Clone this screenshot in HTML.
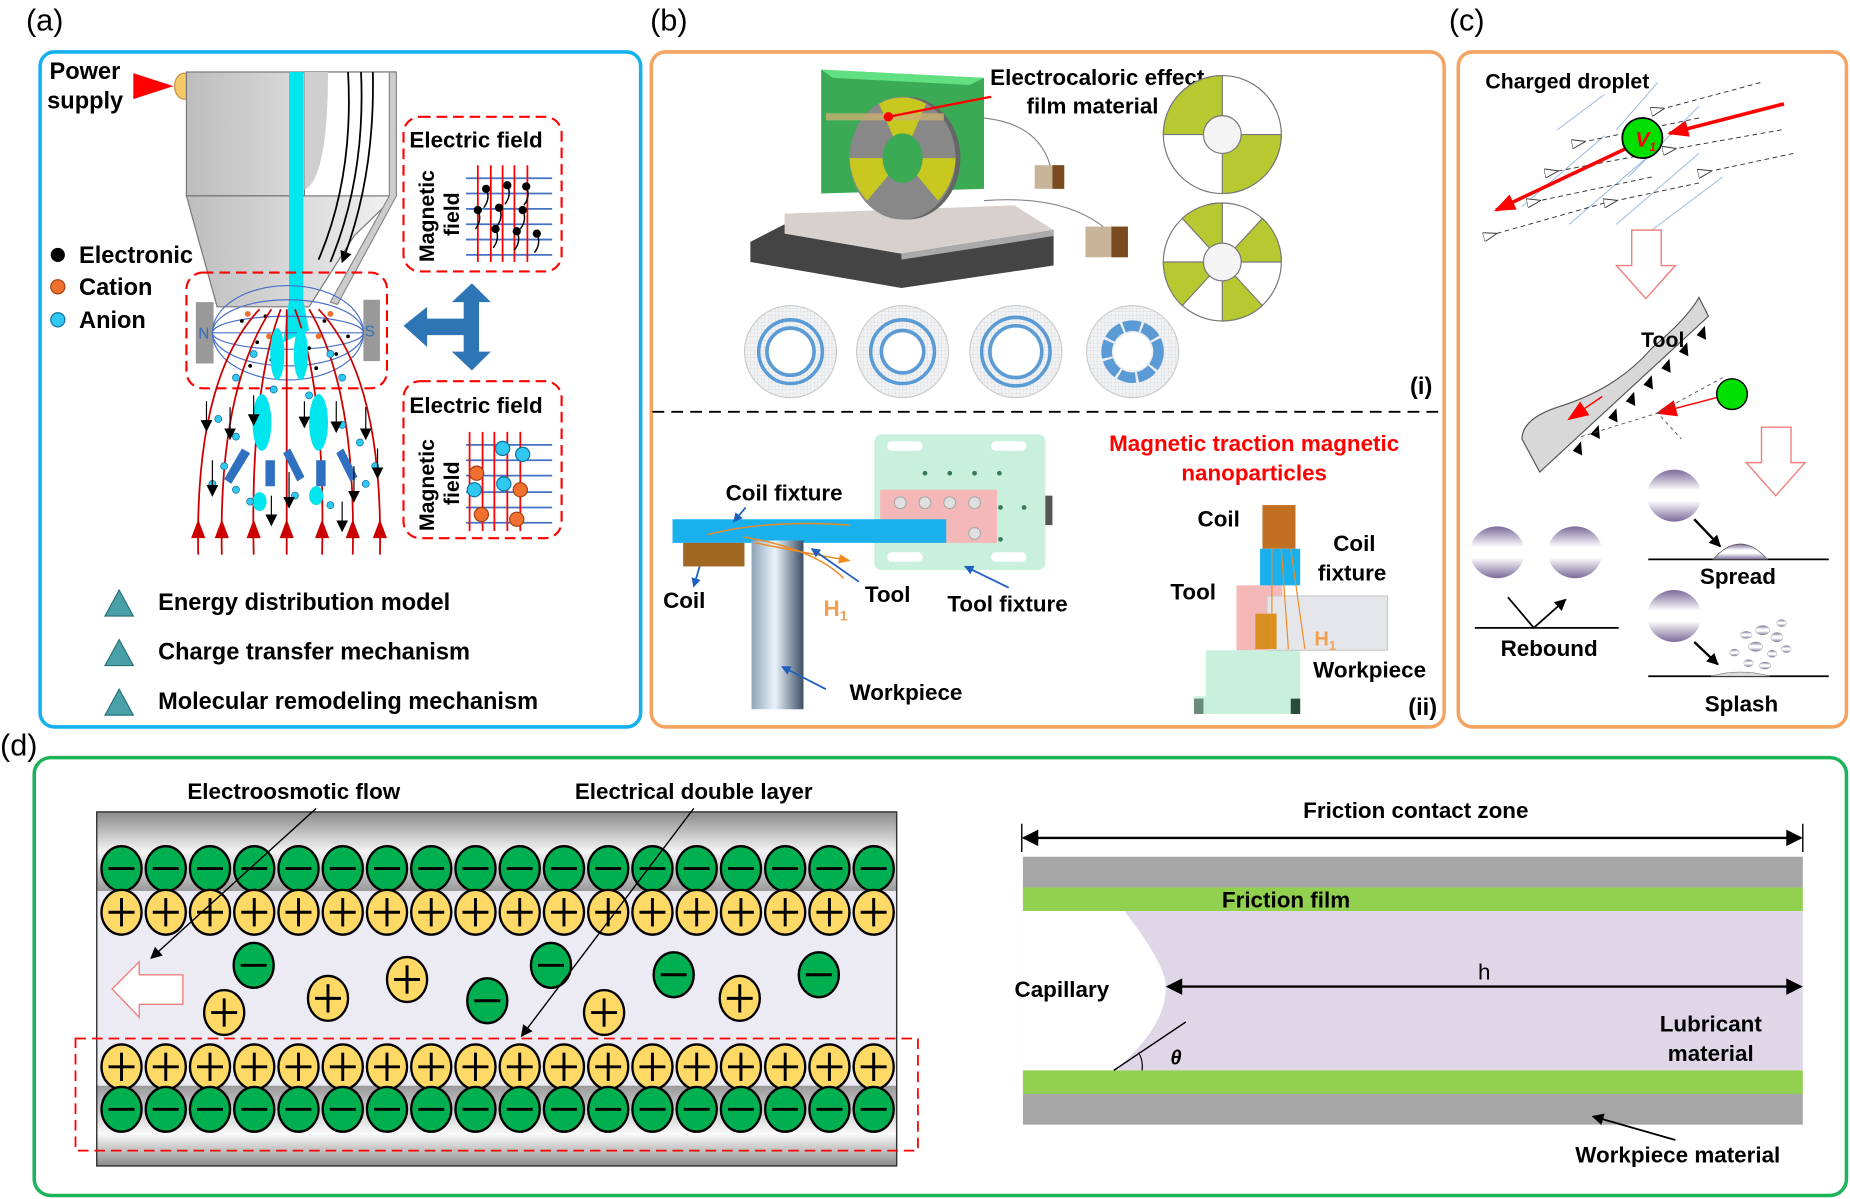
<!DOCTYPE html>
<html><head><meta charset="utf-8"><style>
html,body{margin:0;padding:0;background:#fff;width:1850px;height:1199px;overflow:hidden}
svg{display:block}
text{font-family:"Liberation Sans",Arial,sans-serif;font-weight:bold;fill:#000}
</style></head><body>
<svg width="1850" height="1199" viewBox="0 0 1568 1016" preserveAspectRatio="none" xmlns="http://www.w3.org/2000/svg">
<defs>
<linearGradient id="gTop" x1="0" y1="0" x2="0" y2="1"><stop offset="0" stop-color="#8a8a8a"/><stop offset="0.5" stop-color="#f4f4f4"/><stop offset="1" stop-color="#9a9a9a"/></linearGradient>
<linearGradient id="gBot" x1="0" y1="0" x2="0" y2="1"><stop offset="0" stop-color="#9a9a9a"/><stop offset="0.6" stop-color="#fafafa"/><stop offset="1" stop-color="#8a8a8a"/></linearGradient>
<linearGradient id="gNoz" x1="0" y1="0" x2="1" y2="0"><stop offset="0" stop-color="#bdbdbd"/><stop offset="1" stop-color="#f2f2f2"/></linearGradient>
<linearGradient id="gCyl" x1="0" y1="0" x2="1" y2="0"><stop offset="0" stop-color="#8fa3b8"/><stop offset="0.45" stop-color="#eaf4fb"/><stop offset="1" stop-color="#3c4e66"/></linearGradient>
<linearGradient id="gSph" x1="0" y1="0" x2="0" y2="1"><stop offset="0" stop-color="#7a6a9a"/><stop offset="0.4" stop-color="#ffffff"/><stop offset="0.6" stop-color="#ffffff"/><stop offset="1" stop-color="#7a6a9a"/></linearGradient>
<pattern id="grid" width="3" height="3" patternUnits="userSpaceOnUse"><rect width="3" height="3" fill="#f2f3f5"/><path d="M0,0 H3 M0,0 V3" stroke="#d4d6da" stroke-width="0.6"/></pattern>
<marker id="ak" markerWidth="10" markerHeight="10" refX="9" refY="5" orient="auto" markerUnits="userSpaceOnUse"><path d="M0,0 L10,5 L0,10 Z" fill="#000"/></marker>
<marker id="ab" markerWidth="8" markerHeight="8" refX="7" refY="4" orient="auto" markerUnits="userSpaceOnUse"><path d="M0,0 L8,4 L0,8 Z" fill="#1f5fbf"/></marker>
<marker id="aR" markerWidth="18" markerHeight="14" refX="16" refY="7" orient="auto" markerUnits="userSpaceOnUse"><path d="M0,0 L18,7 L0,14 Z" fill="#f00"/></marker>
<marker id="aO" markerWidth="10" markerHeight="8" refX="9" refY="4" orient="auto" markerUnits="userSpaceOnUse"><path d="M0,0 L10,4 L0,8 Z" fill="#f08a20"/></marker>
<marker id="aw" markerWidth="12" markerHeight="8" refX="1" refY="4" orient="auto" markerUnits="userSpaceOnUse"><path d="M12,0 L0,4 L12,8 Z" fill="#fff" stroke="#333" stroke-width="0.8"/></marker>
<g id="neg"><ellipse cx="0" cy="0" rx="17" ry="19" fill="#00b050" stroke="#000" stroke-width="2"/><line x1="-11" y1="0" x2="11" y2="0" stroke="#000" stroke-width="2.5"/></g>
<g id="pos"><ellipse cx="0" cy="0" rx="17" ry="19" fill="#ffd966" stroke="#000" stroke-width="2"/><line x1="-11" y1="0" x2="11" y2="0" stroke="#000" stroke-width="2.5"/><line x1="0" y1="-12" x2="0" y2="12" stroke="#000" stroke-width="2.5"/></g>
</defs>

<text x="22" y="26" font-size="26" style="font-weight:normal">(a)</text>
<text x="551" y="26" font-size="26" style="font-weight:normal">(b)</text>
<text x="1228" y="26" font-size="26" style="font-weight:normal">(c)</text>
<text x="0" y="640" font-size="26" style="font-weight:normal">(d)</text>

<rect x="34" y="44" width="509" height="572" rx="12" fill="none" stroke="#16b0ee" stroke-width="3"/>
<rect x="552" y="44" width="672" height="572" rx="12" fill="none" stroke="#f4a460" stroke-width="3"/>
<rect x="1236" y="44" width="329" height="572" rx="12" fill="none" stroke="#f4a460" stroke-width="3"/>
<rect x="29" y="642" width="1536" height="371" rx="14" fill="none" stroke="#1db35a" stroke-width="3"/>

<!-- Panel a -->
<text x="42" y="67" font-size="20">Power</text>
<text x="40" y="92" font-size="20">supply</text>
<polygon points="113,62 147,73 113,84" fill="#f00"/>
<ellipse cx="156" cy="73" rx="8" ry="11" fill="#f5c96a" stroke="#c09040"/>
<rect x="158" y="61" width="177" height="105" fill="url(#gNoz)" stroke="#777"/>
<polygon points="158,166 335,166 300,200 262,260 184,260" fill="url(#gNoz)" stroke="#777"/>
<rect x="258" y="61" width="77" height="105" fill="#fff" stroke="#777"/>
<path d="M258,61 h20 q0,90 -20,100 z" fill="#cfcfcf"/>
<polygon points="330,61 336,61 336,166 286,258 280,256 330,166" fill="#ccc" stroke="#888"/>
<path d="M295,61 Q300,150 270,220 M306,61 Q310,150 280,222 M316,61 Q318,150 290,222" fill="none" stroke="#000" stroke-width="1.5" marker-end="url(#ak)"/>
<polygon points="245,61 257,61 257,255 262,280 240,290 245,255" fill="#00e5ee"/>
<circle cx="49" cy="216" r="6" fill="#000"/><text x="67" y="223" font-size="20">Electronic</text>
<circle cx="49" cy="243" r="6" fill="#f07030" stroke="#a04010"/><text x="67" y="250" font-size="20">Cation</text>
<circle cx="49" cy="271" r="6" fill="#30c8f0" stroke="#1070a0"/><text x="67" y="278" font-size="20">Anion</text>
<rect x="158" y="231" width="170" height="98" rx="14" fill="none" stroke="#f00" stroke-width="1.8" stroke-dasharray="9,5"/>
<rect x="166" y="256" width="15" height="52" fill="#999"/><text x="168" y="287" font-size="13" style="font-weight:normal;fill:#3070c0">N</text>
<rect x="308" y="254" width="14" height="52" fill="#999"/><text x="309" y="285" font-size="13" style="font-weight:normal;fill:#3070c0">S</text>
<g fill="none" stroke="#4a70c8" stroke-width="1">
<ellipse cx="244" cy="282" rx="64" ry="40"/><ellipse cx="244" cy="282" rx="64" ry="28"/><ellipse cx="244" cy="282" rx="64" ry="14"/><line x1="181" y1="282" x2="308" y2="282"/>
</g>
<g fill="#000"><circle cx="205" cy="272" r="1.6"/><circle cx="218" cy="290" r="1.6"/><circle cx="230" cy="305" r="1.6"/><circle cx="262" cy="295" r="1.6"/><circle cx="275" cy="272" r="1.6"/><circle cx="285" cy="300" r="1.6"/><circle cx="212" cy="310" r="1.6"/><circle cx="295" cy="285" r="1.6"/><circle cx="225" cy="268" r="1.6"/><circle cx="268" cy="312" r="1.6"/></g>
<g fill="#f07030"><circle cx="210" cy="266" r="2.5"/><circle cx="280" cy="266" r="2.5"/><circle cx="228" cy="285" r="2.5"/><circle cx="270" cy="285" r="2.5"/><circle cx="255" cy="310" r="2.5"/></g>
<g fill="none" stroke="#c00" stroke-width="1.5">
<path d="M168,470 Q165,320 220,262"/><path d="M188,470 Q185,330 230,262"/><path d="M215,470 Q212,330 238,262"/><path d="M243,470 L243,262"/><path d="M273,470 Q276,330 250,262"/><path d="M299,470 Q302,330 262,262"/><path d="M322,470 Q325,320 270,262"/>
</g>
<g fill="#c00"><polygon points="162,456 168,440 174,456"/><polygon points="182,456 188,440 194,456"/><polygon points="209,456 215,440 221,456"/><polygon points="237,456 243,440 249,456"/><polygon points="267,456 273,440 279,456"/><polygon points="293,456 299,440 305,456"/><polygon points="316,456 322,440 328,456"/></g>
<g fill="#00e5ee"><ellipse cx="222" cy="358" rx="8" ry="24"/><ellipse cx="270" cy="358" rx="8" ry="24"/><ellipse cx="235" cy="300" rx="6" ry="22"/><ellipse cx="255" cy="300" rx="6" ry="22"/><ellipse cx="220" cy="425" rx="6" ry="8"/><ellipse cx="268" cy="420" rx="6" ry="8"/></g>
<g fill="#3070c0"><polygon points="205,380 212,384 196,410 190,406"/><polygon points="225,390 233,390 233,412 225,412"/><polygon points="240,384 246,380 258,404 252,408"/><polygon points="268,390 276,390 276,412 268,412"/><polygon points="285,384 291,380 303,404 297,408"/></g>
<g fill="#30c8f0" stroke="#1070a0" stroke-width="0.6"><circle cx="185" cy="355" r="3"/><circle cx="200" cy="370" r="3"/><circle cx="290" cy="360" r="3"/><circle cx="305" cy="375" r="3"/><circle cx="180" cy="410" r="3"/><circle cx="310" cy="410" r="3"/><circle cx="200" cy="415" r="3"/><circle cx="250" cy="420" r="3"/><circle cx="215" cy="300" r="3"/><circle cx="280" cy="300" r="3"/><circle cx="200" cy="320" r="3"/><circle cx="290" cy="320" r="3"/><circle cx="232" cy="330" r="3"/><circle cx="262" cy="335" r="3"/><circle cx="212" cy="425" r="3"/><circle cx="280" cy="428" r="3"/><circle cx="190" cy="395" r="3"/><circle cx="318" cy="395" r="3"/></g>
<g stroke="#000" stroke-width="1" marker-end="url(#ak)"><line x1="175" y1="340" x2="175" y2="365"/><line x1="195" y1="345" x2="195" y2="372"/><line x1="215" y1="335" x2="215" y2="360"/><line x1="258" y1="340" x2="258" y2="362"/><line x1="285" y1="340" x2="285" y2="366"/><line x1="310" y1="345" x2="310" y2="372"/><line x1="180" y1="390" x2="180" y2="420"/><line x1="300" y1="395" x2="300" y2="425"/><line x1="320" y1="380" x2="320" y2="405"/><line x1="245" y1="400" x2="245" y2="430"/><line x1="230" y1="420" x2="230" y2="445"/><line x1="290" y1="425" x2="290" y2="450"/></g>
<rect x="342" y="99" width="134" height="131" rx="14" fill="none" stroke="#f00" stroke-width="1.8" stroke-dasharray="9,5"/>
<text x="347" y="125" font-size="19">Electric field</text>
<text transform="translate(368,222) rotate(-90)" font-size="18">Magnetic</text>
<text transform="translate(389,200) rotate(-90)" font-size="18">field</text>
<g stroke="#4472c4" stroke-width="1.5"><line x1="395" y1="151" x2="468" y2="151"/><line x1="395" y1="164" x2="468" y2="164"/><line x1="395" y1="177" x2="468" y2="177"/><line x1="395" y1="190" x2="468" y2="190"/><line x1="395" y1="203" x2="468" y2="203"/><line x1="395" y1="216" x2="468" y2="216"/></g>
<g stroke="#f00" stroke-width="1.5"><line x1="405" y1="222" x2="405" y2="140"/><line x1="416" y1="222" x2="416" y2="140"/><line x1="426" y1="222" x2="426" y2="140"/><line x1="436" y1="222" x2="436" y2="140"/><line x1="447" y1="222" x2="447" y2="140"/></g>
<g fill="#000"><circle cx="412" cy="160" r="3.5"/><circle cx="430" cy="157" r="3.5"/><circle cx="446" cy="158" r="3.5"/><circle cx="405" cy="178" r="3.5"/><circle cx="423" cy="176" r="3.5"/><circle cx="443" cy="178" r="3.5"/><circle cx="420" cy="194" r="3.5"/><circle cx="438" cy="196" r="3.5"/><circle cx="455" cy="198" r="3.5"/></g>
<g fill="none" stroke="#000" stroke-width="1.2"><path d="M412,160 q4,8 -2,16"/><path d="M430,157 q4,8 -2,16"/><path d="M446,158 q4,8 -2,16"/><path d="M405,178 q4,8 -2,16"/><path d="M423,176 q4,8 -2,16"/><path d="M443,178 q4,8 -2,16"/><path d="M420,194 q4,8 -2,16"/><path d="M438,196 q4,8 -2,16"/><path d="M455,198 q4,8 -2,16"/></g>
<rect x="342" y="323" width="134" height="133" rx="14" fill="none" stroke="#f00" stroke-width="1.8" stroke-dasharray="9,5"/>
<text x="347" y="350" font-size="19">Electric field</text>
<text transform="translate(368,450) rotate(-90)" font-size="18">Magnetic</text>
<text transform="translate(389,428) rotate(-90)" font-size="18">field</text>
<g stroke="#4472c4" stroke-width="1.5"><line x1="395" y1="377" x2="468" y2="377"/><line x1="395" y1="390" x2="468" y2="390"/><line x1="395" y1="403" x2="468" y2="403"/><line x1="395" y1="417" x2="468" y2="417"/><line x1="395" y1="430" x2="468" y2="430"/><line x1="395" y1="443" x2="468" y2="443"/></g>
<g stroke="#f00" stroke-width="1.5"><line x1="398" y1="450" x2="398" y2="366"/><line x1="409" y1="450" x2="409" y2="366"/><line x1="419" y1="450" x2="419" y2="366"/><line x1="430" y1="450" x2="430" y2="366"/><line x1="441" y1="450" x2="441" y2="366"/></g>
<g fill="#30c8f0" stroke="#1070a0"><circle cx="426" cy="380" r="6"/><circle cx="443" cy="385" r="6"/><circle cx="402" cy="415" r="6"/><circle cx="427" cy="410" r="6"/></g>
<g fill="#f07030" stroke="#a04010"><circle cx="404" cy="401" r="6"/><circle cx="441" cy="415" r="6"/><circle cx="408" cy="436" r="6"/><circle cx="438" cy="440" r="6"/></g>
<path d="M342,276 L362,260 L362,270 L393,270 L393,256 L383,256 L400,240 L416,256 L406,256 L406,298 L416,298 L400,314 L383,298 L393,298 L393,284 L362,284 L362,294 Z" fill="#2e75b6"/>
<g fill="#4aa0a8" stroke="#2a7078"><polygon points="101,500 89,522 113,522"/><polygon points="101,542 89,564 113,564"/><polygon points="101,584 89,606 113,606"/></g>
<text x="134" y="517" font-size="20">Energy distribution model</text>
<text x="134" y="559" font-size="20">Charge transfer mechanism</text>
<text x="134" y="601" font-size="20">Molecular remodeling mechanism</text>

<!-- Panel b -->
<polygon points="696,59 834,66 834,160 696,164" fill="#3aaa55"/>
<polygon points="696,59 834,66 822,72 706,66" fill="#60e080"/>
<polygon points="636,205 665,190 893,195 893,225 764,244 636,222" fill="#444"/>
<polygon points="665,181 860,174 893,195 764,215 665,198" fill="#d8d0cc"/>
<polygon points="764,215 893,195 893,200 764,220" fill="#aaa"/>
<ellipse cx="769" cy="134" rx="45" ry="52" fill="#666"/>
<ellipse cx="765" cy="134" rx="45" ry="52" fill="#888"/>
<path d="M765,134 L745,88 A45,52 0 0 1 785,88 Z M765,134 L810,134 A45,52 0 0 1 795,170 Z M765,134 L735,170 A45,52 0 0 1 720,134 Z" fill="#c8c820"/>
<ellipse cx="765" cy="134" rx="17" ry="21" fill="#3aaa55"/>
<rect x="700" y="96" width="100" height="6" fill="#c8b070" opacity="0.8"/>
<circle cx="753" cy="99" r="4" fill="#f00"/>
<line x1="753" y1="99" x2="840" y2="82" stroke="#f00" stroke-width="2"/>
<rect x="877" y="140" width="25" height="20" fill="#c8b498"/><rect x="892" y="140" width="10" height="20" fill="#7a4a20"/>
<rect x="920" y="192" width="36" height="26" fill="#c8b498"/><rect x="942" y="192" width="14" height="26" fill="#7a4a20"/>
<path d="M834,100 Q880,105 890,140 M834,170 Q900,165 935,192" fill="none" stroke="#888" stroke-width="1"/>
<text x="930" y="72" font-size="19" text-anchor="middle">Electrocaloric effect</text>
<text x="926" y="96" font-size="19" text-anchor="middle">film material</text>
<g stroke="#777" stroke-width="1">
<ellipse cx="1036" cy="114" rx="50" ry="50" fill="#fff"/>
<path d="M1036,114 L986,114 A50,50 0 0 1 1036,64 Z M1036,114 L1086,114 A50,50 0 0 1 1036,164 Z" fill="#b8c830"/>
<circle cx="1036" cy="114" r="16" fill="#f4f4f4"/>
<ellipse cx="1036" cy="222" rx="50" ry="50" fill="#fff"/>
<path d="M1036,222 L1036,172 A50,50 0 0 0 1002,185 Z M1036,222 L1070,185 A50,50 0 0 1 1086,222 Z M1036,222 L986,222 A50,50 0 0 0 1002,259 Z M1036,222 L1070,259 A50,50 0 0 1 1036,272 Z" fill="#b8c830"/>
<circle cx="1036" cy="222" r="16" fill="#f4f4f4"/>
</g>
<g fill="url(#grid)" stroke="#ccc"><ellipse cx="670" cy="298" rx="39" ry="39"/><ellipse cx="765" cy="298" rx="39" ry="39"/><ellipse cx="861" cy="298" rx="39" ry="39"/><ellipse cx="960" cy="298" rx="39" ry="39"/></g>
<g fill="#fff"><circle cx="670" cy="298" r="18"/><circle cx="765" cy="298" r="16"/><circle cx="861" cy="298" r="20"/><circle cx="960" cy="298" r="16"/></g>
<g fill="none" stroke="#5b9bd5" stroke-width="3"><circle cx="670" cy="298" r="27"/><circle cx="670" cy="298" r="20"/><circle cx="765" cy="298" r="27"/><circle cx="765" cy="298" r="18"/><circle cx="861" cy="298" r="29"/><circle cx="861" cy="298" r="22"/></g>
<circle cx="960" cy="298" r="22" fill="none" stroke="#5b9bd5" stroke-width="9" stroke-dasharray="14,2"/>
<text x="1214" y="334" font-size="20" text-anchor="end">(i)</text>
<line x1="553" y1="349" x2="1222" y2="349" stroke="#000" stroke-width="1.6" stroke-dasharray="10,6"/>
<rect x="741" y="368" width="145" height="115" rx="6" fill="#c9efdd"/>
<g fill="#fff"><rect x="752" y="374" width="30" height="8" rx="4"/><rect x="840" y="374" width="30" height="8" rx="4"/><rect x="752" y="468" width="30" height="8" rx="4"/><rect x="840" y="468" width="30" height="8" rx="4"/></g>
<g fill="#3a7a5a"><circle cx="784" cy="401" r="2"/><circle cx="805" cy="401" r="2"/><circle cx="826" cy="401" r="2"/><circle cx="847" cy="401" r="2"/><circle cx="848" cy="430" r="2"/><circle cx="868" cy="430" r="2"/><circle cx="848" cy="457" r="2"/></g>
<rect x="746" y="415" width="99" height="45" fill="#f5b8b8"/>
<g fill="#e0e0e0" stroke="#aaa"><circle cx="763" cy="426" r="5"/><circle cx="784" cy="426" r="5"/><circle cx="805" cy="426" r="5"/><circle cx="826" cy="426" r="5"/><circle cx="826" cy="452" r="5"/></g>
<rect x="886" y="420" width="6" height="25" fill="#555"/>
<rect x="570" y="440" width="232" height="20" fill="#1ab0ee"/>
<rect x="579" y="460" width="52" height="20" fill="#a06820"/>
<rect x="637" y="458" width="44" height="143" fill="url(#gCyl)"/>
<path d="M600,453 Q650,440 720,445 M630,455 Q690,465 715,490 M640,460 Q690,470 720,475" fill="none" stroke="#f08a20" stroke-width="1.2" marker-end="url(#aO)"/>
<text x="615" y="424" font-size="19">Coil fixture</text>
<text x="562" y="515" font-size="19">Coil</text>
<text x="698" y="522" font-size="19" style="fill:#f0a050">H<tspan font-size="12" dy="4">1</tspan></text>
<text x="733" y="510" font-size="19">Tool</text>
<text x="803" y="518" font-size="19">Tool fixture</text>
<text x="720" y="593" font-size="19">Workpiece</text>
<g stroke="#1f5fbf" stroke-width="1.5" marker-end="url(#ab)"><line x1="632" y1="430" x2="622" y2="442"/><line x1="593" y1="480" x2="588" y2="497"/><line x1="728" y1="493" x2="688" y2="465"/><line x1="855" y1="498" x2="818" y2="480"/><line x1="700" y1="584" x2="663" y2="565"/></g>
<text x="1063" y="382" font-size="19" text-anchor="middle" style="fill:#f00">Magnetic traction magnetic</text>
<text x="1063" y="407" font-size="19" text-anchor="middle" style="fill:#f00">nanoparticles</text>
<polygon points="1022,551 1102,551 1102,605 1012,605 1012,590 1022,590" fill="#c9efdd"/>
<rect x="1012" y="592" width="8" height="13" fill="#6a8a7a"/><rect x="1094" y="592" width="8" height="13" fill="#2a4a3a"/>
<rect x="1048" y="496" width="39" height="55" fill="#f5b8b8"/>
<rect x="1074" y="505" width="102" height="46" fill="#e4e6ea" stroke="#ccc"/>
<rect x="1070" y="428" width="28" height="37" fill="#c07020"/>
<rect x="1068" y="465" width="34" height="31" fill="#1ab0ee"/>
<rect x="1064" y="520" width="18" height="30" fill="#d89020"/>
<g stroke="#f08a20" stroke-width="1"><line x1="1078" y1="465" x2="1078" y2="550"/><line x1="1086" y1="465" x2="1092" y2="550"/><line x1="1094" y1="465" x2="1106" y2="550"/></g>
<text x="1015" y="446" font-size="19">Coil</text>
<text x="1130" y="467" font-size="19">Coil</text>
<text x="1117" y="492" font-size="19">fixture</text>
<text x="992" y="508" font-size="19">Tool</text>
<text x="1114" y="547" font-size="17" style="fill:#f0a050">H<tspan font-size="11" dy="4">1</tspan></text>
<text x="1113" y="574" font-size="19">Workpiece</text>
<text x="1218" y="606" font-size="20" text-anchor="end">(ii)</text>

<!-- Panel c -->
<text x="1259" y="75" font-size="18">Charged droplet</text>
<g stroke="#9ab8e0" stroke-width="0.8"><line x1="1360" y1="80" x2="1320" y2="110"/><line x1="1405" y1="70" x2="1370" y2="110"/><line x1="1440" y1="90" x2="1380" y2="150"/><line x1="1360" y1="115" x2="1290" y2="175"/><line x1="1400" y1="130" x2="1330" y2="190"/><line x1="1440" y1="130" x2="1370" y2="190"/><line x1="1460" y1="150" x2="1400" y2="195"/></g>
<g stroke="#333" stroke-width="0.8" stroke-dasharray="4,3"><line x1="1492" y1="70" x2="1410" y2="92" marker-end="url(#aw)"/><line x1="1440" y1="100" x2="1343" y2="120" marker-end="url(#aw)"/><line x1="1510" y1="110" x2="1420" y2="126" marker-end="url(#aw)"/><line x1="1400" y1="130" x2="1320" y2="145" marker-end="url(#aw)"/><line x1="1520" y1="130" x2="1450" y2="145" marker-end="url(#aw)"/><line x1="1400" y1="150" x2="1305" y2="170" marker-end="url(#aw)"/><line x1="1440" y1="155" x2="1370" y2="170" marker-end="url(#aw)"/><line x1="1360" y1="172" x2="1268" y2="198" marker-end="url(#aw)"/></g>
<line x1="1512" y1="88" x2="1415" y2="113" stroke="#f00" stroke-width="3" marker-end="url(#aR)"/>
<line x1="1380" y1="125" x2="1268" y2="178" stroke="#f00" stroke-width="3" marker-end="url(#aR)"/>
<circle cx="1392" cy="117" r="17" fill="#00e000" stroke="#000" stroke-width="1.5"/>
<text x="1386" y="124" font-size="18" style="fill:#f00;font-style:italic">V<tspan font-size="10" dy="4">1</tspan></text>
<path d="M1383,195 h25 v30 h12 l-25,28 l-25,-28 h13 z" fill="#fff" stroke="#f08080" stroke-width="1.2"/>
<path d="M1290,372 Q1290,355 1320,345 Q1370,330 1400,295 Q1430,270 1440,252 L1448,268 L1305,400 Z" fill="#d8d8d8" stroke="#555"/>
<g fill="#000"><polygon points="1445,276 1438,284 1446,288"/><polygon points="1430,290 1423,298 1431,302"/><polygon points="1415,304 1408,312 1416,316"/><polygon points="1400,318 1393,326 1401,330"/><polygon points="1385,332 1378,340 1386,344"/><polygon points="1370,346 1363,354 1371,358"/><polygon points="1355,360 1348,368 1356,372"/><polygon points="1340,374 1333,382 1341,386"/></g>
<text x="1391" y="294" font-size="18">Tool</text>
<line x1="1358" y1="336" x2="1330" y2="355" stroke="#f00" stroke-width="1.2" marker-end="url(#aR)"/>
<line x1="1470" y1="333" x2="1405" y2="350" stroke="#f00" stroke-width="1.2" marker-end="url(#aR)"/>
<path d="M1340,370 L1405,350 L1425,372 M1405,350 L1460,320" fill="none" stroke="#555" stroke-width="0.8" stroke-dasharray="3,3"/>
<circle cx="1468" cy="334" r="13" fill="#00e000" stroke="#000" stroke-width="1.2"/>
<path d="M1493,362 h25 v30 h12 l-25,28 l-25,-28 h13 z" fill="#fff" stroke="#f08080" stroke-width="1.2"/>
<g fill="url(#gSph)"><ellipse cx="1269" cy="468" rx="23" ry="22"/><ellipse cx="1335" cy="468" rx="23" ry="22"/><ellipse cx="1419" cy="420" rx="23" ry="22"/><ellipse cx="1419" cy="522" rx="23" ry="22"/></g>
<line x1="1250" y1="532" x2="1372" y2="532" stroke="#000" stroke-width="1.5"/>
<path d="M1278,506 L1300,532 L1327,508" fill="none" stroke="#000" stroke-width="1.5" marker-end="url(#ak)"/>
<text x="1313" y="556" font-size="19" text-anchor="middle">Rebound</text>
<line x1="1397" y1="474" x2="1550" y2="474" stroke="#000" stroke-width="1.5"/>
<path d="M1452,474 Q1475,448 1498,474 Z" fill="url(#gSph)" stroke="#555" stroke-width="0.6"/>
<line x1="1436" y1="440" x2="1458" y2="463" stroke="#000" stroke-width="2" marker-end="url(#ak)"/>
<text x="1473" y="495" font-size="19" text-anchor="middle">Spread</text>
<line x1="1397" y1="573" x2="1550" y2="573" stroke="#000" stroke-width="1.5"/>
<path d="M1450,573 Q1475,566 1500,573 Z" fill="#ddd" stroke="#777" stroke-width="0.6"/>
<line x1="1436" y1="544" x2="1456" y2="563" stroke="#000" stroke-width="2" marker-end="url(#ak)"/>
<g fill="url(#gSph)" stroke="#999" stroke-width="0.4"><ellipse cx="1480" cy="538" rx="5" ry="3"/><ellipse cx="1494" cy="534" rx="6" ry="4"/><ellipse cx="1506" cy="540" rx="5" ry="4"/><ellipse cx="1488" cy="548" rx="6" ry="4"/><ellipse cx="1470" cy="553" rx="4" ry="3"/><ellipse cx="1502" cy="554" rx="4" ry="3"/><ellipse cx="1482" cy="562" rx="4" ry="3"/><ellipse cx="1496" cy="564" rx="5" ry="3"/><ellipse cx="1510" cy="528" rx="4" ry="3"/><ellipse cx="1514" cy="550" rx="4" ry="3"/></g>
<text x="1476" y="603" font-size="19" text-anchor="middle">Splash</text>

<!-- Panel d left -->
<rect x="82" y="688" width="678" height="300" fill="#ecebf3"/>
<rect x="82" y="688" width="678" height="67" fill="url(#gTop)"/>
<rect x="82" y="920" width="678" height="68" fill="url(#gBot)"/>
<rect x="82" y="688" width="678" height="300" fill="none" stroke="#333" stroke-width="1.2"/>
<g>
<use href="#neg" x="103" y="736"/><use href="#neg" x="140.5" y="736"/><use href="#neg" x="178" y="736"/><use href="#neg" x="215.5" y="736"/><use href="#neg" x="253" y="736"/><use href="#neg" x="290.5" y="736"/><use href="#neg" x="328" y="736"/><use href="#neg" x="365.5" y="736"/><use href="#neg" x="403" y="736"/><use href="#neg" x="440.5" y="736"/><use href="#neg" x="478" y="736"/><use href="#neg" x="515.5" y="736"/><use href="#neg" x="553" y="736"/><use href="#neg" x="590.5" y="736"/><use href="#neg" x="628" y="736"/><use href="#neg" x="665.5" y="736"/><use href="#neg" x="703" y="736"/><use href="#neg" x="740.5" y="736"/>
<use href="#pos" x="103" y="773"/><use href="#pos" x="140.5" y="773"/><use href="#pos" x="178" y="773"/><use href="#pos" x="215.5" y="773"/><use href="#pos" x="253" y="773"/><use href="#pos" x="290.5" y="773"/><use href="#pos" x="328" y="773"/><use href="#pos" x="365.5" y="773"/><use href="#pos" x="403" y="773"/><use href="#pos" x="440.5" y="773"/><use href="#pos" x="478" y="773"/><use href="#pos" x="515.5" y="773"/><use href="#pos" x="553" y="773"/><use href="#pos" x="590.5" y="773"/><use href="#pos" x="628" y="773"/><use href="#pos" x="665.5" y="773"/><use href="#pos" x="703" y="773"/><use href="#pos" x="740.5" y="773"/>
<use href="#pos" x="103" y="904"/><use href="#pos" x="140.5" y="904"/><use href="#pos" x="178" y="904"/><use href="#pos" x="215.5" y="904"/><use href="#pos" x="253" y="904"/><use href="#pos" x="290.5" y="904"/><use href="#pos" x="328" y="904"/><use href="#pos" x="365.5" y="904"/><use href="#pos" x="403" y="904"/><use href="#pos" x="440.5" y="904"/><use href="#pos" x="478" y="904"/><use href="#pos" x="515.5" y="904"/><use href="#pos" x="553" y="904"/><use href="#pos" x="590.5" y="904"/><use href="#pos" x="628" y="904"/><use href="#pos" x="665.5" y="904"/><use href="#pos" x="703" y="904"/><use href="#pos" x="740.5" y="904"/>
<use href="#neg" x="103" y="940"/><use href="#neg" x="140.5" y="940"/><use href="#neg" x="178" y="940"/><use href="#neg" x="215.5" y="940"/><use href="#neg" x="253" y="940"/><use href="#neg" x="290.5" y="940"/><use href="#neg" x="328" y="940"/><use href="#neg" x="365.5" y="940"/><use href="#neg" x="403" y="940"/><use href="#neg" x="440.5" y="940"/><use href="#neg" x="478" y="940"/><use href="#neg" x="515.5" y="940"/><use href="#neg" x="553" y="940"/><use href="#neg" x="590.5" y="940"/><use href="#neg" x="628" y="940"/><use href="#neg" x="665.5" y="940"/><use href="#neg" x="703" y="940"/><use href="#neg" x="740.5" y="940"/>
<use href="#neg" x="215" y="818"/><use href="#neg" x="467" y="818"/><use href="#neg" x="571" y="826"/><use href="#neg" x="694" y="826"/><use href="#neg" x="413" y="848"/>
<use href="#pos" x="190" y="858"/><use href="#pos" x="278" y="846"/><use href="#pos" x="345" y="830"/><use href="#pos" x="512" y="858"/><use href="#pos" x="627" y="846"/>
</g>
<path d="M95,838 L118,815 L118,826 L155,826 L155,851 L118,851 L118,862 Z" fill="#fff" stroke="#f08080" stroke-width="1.2"/>
<rect x="64" y="880" width="714" height="95" fill="none" stroke="#f00" stroke-width="1.5" stroke-dasharray="9,5"/>
<text x="249" y="677" font-size="19" text-anchor="middle">Electroosmotic flow</text>
<text x="588" y="677" font-size="19" text-anchor="middle">Electrical double layer</text>
<line x1="268" y1="685" x2="128" y2="812" stroke="#000" stroke-width="1.2" marker-end="url(#ak)"/>
<line x1="588" y1="685" x2="442" y2="878" stroke="#000" stroke-width="1.2" marker-end="url(#ak)"/>

<!-- Panel d right -->
<text x="1200" y="693" font-size="19" text-anchor="middle">Friction contact zone</text>
<line x1="866" y1="698" x2="866" y2="722" stroke="#000" stroke-width="1.2"/>
<line x1="1528" y1="698" x2="1528" y2="722" stroke="#000" stroke-width="1.2"/>
<line x1="868" y1="710" x2="1526" y2="710" stroke="#000" stroke-width="2"/>
<polygon points="866,710 880,703 880,717" fill="#000"/><polygon points="1528,710 1514,703 1514,717" fill="#000"/>
<rect x="867" y="726" width="661" height="26" fill="#a6a6a6"/>
<rect x="867" y="752" width="661" height="20" fill="#92d050"/>
<text x="1090" y="769" font-size="19" text-anchor="middle">Friction film</text>
<rect x="867" y="772" width="661" height="135" fill="#dfd7e8"/>
<path d="M867,772 L953,772 Q990,820 988,838 Q988,870 945,907 L867,907 Z" fill="#fff"/>
<rect x="867" y="907" width="661" height="20" fill="#92d050"/>
<rect x="867" y="927" width="661" height="26" fill="#a6a6a6"/>
<line x1="990" y1="836" x2="1526" y2="836" stroke="#000" stroke-width="2"/>
<polygon points="988,836 1002,829 1002,843" fill="#000"/><polygon points="1528,836 1514,829 1514,843" fill="#000"/>
<text x="1258" y="830" font-size="19" text-anchor="middle" style="font-weight:normal">h</text>
<text x="900" y="845" font-size="19" text-anchor="middle">Capillary</text>
<text x="1450" y="874" font-size="19" text-anchor="middle">Lubricant</text>
<text x="1450" y="899" font-size="19" text-anchor="middle">material</text>
<line x1="944" y1="907" x2="1005" y2="866" stroke="#000" stroke-width="1.2"/>
<path d="M968,907 Q969,898 965,892" fill="none" stroke="#000" stroke-width="1"/>
<text x="992" y="902" font-size="17" style="font-style:italic">θ</text>
<line x1="1420" y1="966" x2="1350" y2="946" stroke="#000" stroke-width="1.5" marker-end="url(#ak)"/>
<text x="1422" y="985" font-size="19" text-anchor="middle">Workpiece material</text>
</svg>
</body></html>
